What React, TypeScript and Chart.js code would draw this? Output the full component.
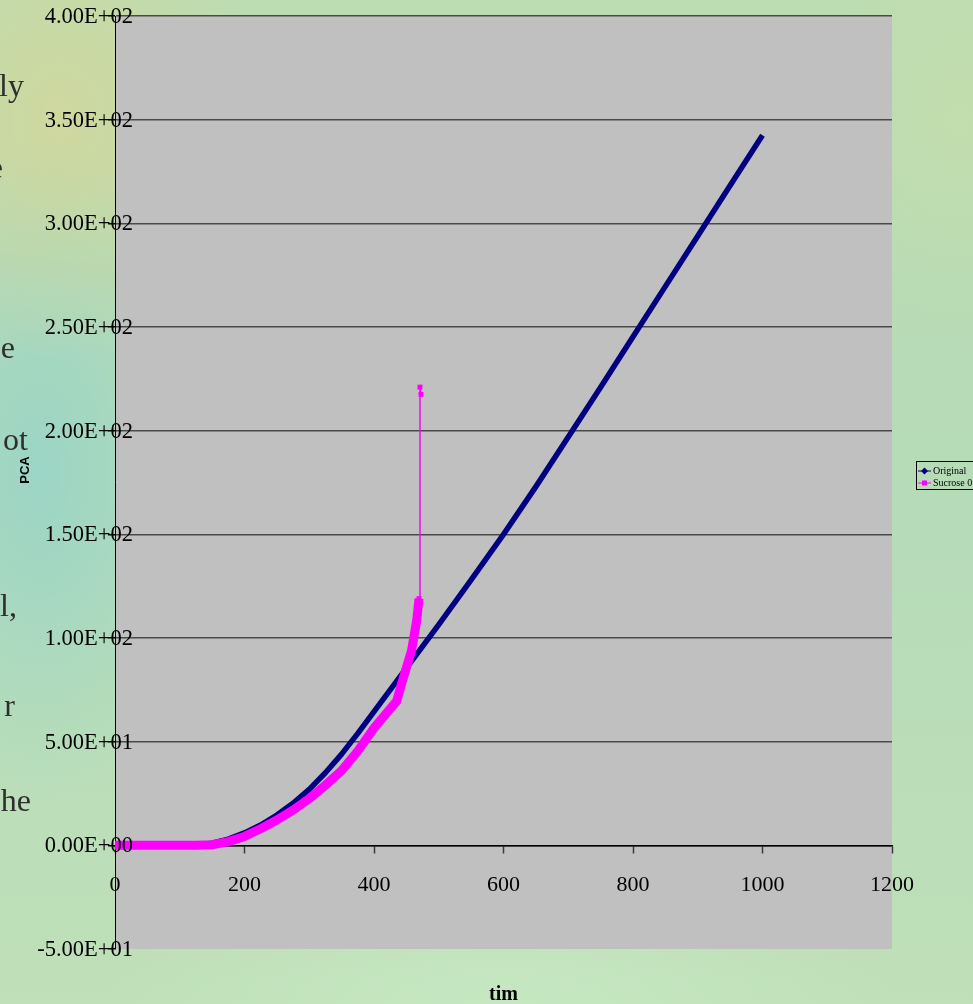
import React, { useEffect, useRef } from "react";
import { Chart, registerables } from "chart.js";

Chart.register(...registerables);

// Simulation output: PCA level against time for the two runs
const originalTime = [0, 50, 100, 125, 150, 175, 200, 225, 250, 275, 300, 325, 350, 375, 400, 425, 450, 475, 500, 550, 600, 650, 700, 750, 800, 850, 900, 950, 1000];
const originalPca = [0, 0, 0, 0.2, 1, 3, 6, 9.8, 14.6, 20.3, 27, 35, 44, 54, 64.5, 75, 85.5, 96, 106.5, 128, 150, 173, 197, 221, 245.3, 269.6, 293.9, 318.2, 342.5];

const sucroseTime = [0, 50, 100, 125, 150, 175, 200, 225, 250, 275, 300, 325, 350, 375, 400, 420, 435, 445, 458, 466, 469.5, 471, 472.5];
const sucrosePca = [0, 0, 0, 0, 0.3, 1.8, 4.3, 8, 12.2, 17, 22.5, 29, 36, 45.5, 56.5, 64, 69.5, 80.5, 94, 108.5, 119, 221, 217.5];

const seriesNames = ["Original", "Sucrose 0"];
const seriesColors = ["#000080", "#FF00FF"];

const xTicks = [0, 200, 400, 600, 800, 1000, 1200];
const xTickLabels = ["0", "200", "400", "600", "800", "1000", "1200"];
const yTicks = [-50, 0, 50, 100, 150, 200, 250, 300, 350, 400];
const yTickLabels = ["-5.00E+01", "0.00E+00", "5.00E+01", "1.00E+02", "1.50E+02", "2.00E+02", "2.50E+02", "3.00E+02", "3.50E+02", "4.00E+02"];

const xTitle = "tim";
const yTitle = "PCA";

// Slide text running behind the left edge of the chart
const slideFragments = [
  { text: "ly", right: 24, baseline: 96 },
  { text: "e", right: 3, baseline: 178 },
  { text: "e", right: 15, baseline: 358 },
  { text: "ot", right: 28, baseline: 450 },
  { text: "l,", right: 17, baseline: 616 },
  { text: "r", right: 15, baseline: 716 },
  { text: "he", right: 31, baseline: 811 },
];

const SERIF = "'Liberation Serif', 'Times New Roman', serif";
const SANS = "'Liberation Sans', Arial, sans-serif";

// index where the Sucrose run jumps off its thick trace
const jumpIndex = sucrosePca.findIndex((v) => v > 150);

const decorations = {
  id: "decorations",
  beforeDraw(chart: any) {
    const { ctx, chartArea } = chart;
    ctx.save();
    // slide text
    ctx.fillStyle = "#2e2e2e";
    ctx.font = `32px ${SERIF}`;
    ctx.textAlign = "right";
    ctx.textBaseline = "alphabetic";
    slideFragments.forEach((f) => ctx.fillText(f.text, f.right, f.baseline));
    // plot area
    ctx.fillStyle = "#C0C0C0";
    ctx.fillRect(chartArea.left, chartArea.top, chartArea.right - chartArea.left, chartArea.bottom - chartArea.top);
    ctx.restore();
  },
  afterDraw(chart: any) {
    const { ctx, chartArea } = chart;
    const yScale = chart.scales.y;
    ctx.save();

    // value labels of the y axis, overhanging the axis line
    ctx.fillStyle = "#000";
    ctx.font = `22.5px ${SERIF}`;
    ctx.textAlign = "right";
    ctx.textBaseline = "middle";
    yTicks.forEach((v, i) => {
      ctx.fillText(yTickLabels[i], yScale.left + yScale.width + 18, yScale.getPixelForValue(v) + 1);
    });

    // axis titles
    ctx.font = `bold 20px ${SERIF}`;
    ctx.textAlign = "center";
    ctx.textBaseline = "alphabetic";
    ctx.fillText(xTitle, (chartArea.left + chartArea.right) / 2, 1000);

    ctx.save();
    ctx.translate(25, 470);
    ctx.rotate(-Math.PI / 2);
    ctx.font = `bold 13px ${SANS}`;
    ctx.textBaseline = "middle";
    ctx.fillText(yTitle, 0, 0);
    ctx.restore();

    // legend box
    const lx = 916;
    const ly = 461;
    ctx.strokeStyle = "#000";
    ctx.lineWidth = 1;
    ctx.strokeRect(lx + 0.5, ly + 0.5, 70, 28);
    ctx.font = `10px ${SERIF}`;
    ctx.textAlign = "left";
    ctx.textBaseline = "middle";
    seriesNames.forEach((name, i) => {
      const y = ly + 10 + i * 12;
      ctx.strokeStyle = seriesColors[i];
      ctx.lineWidth = 1;
      ctx.beginPath();
      ctx.moveTo(918, y);
      ctx.lineTo(931, y);
      ctx.stroke();
      ctx.fillStyle = seriesColors[i];
      if (i === 0) {
        ctx.beginPath();
        ctx.moveTo(924.5, y - 3.5);
        ctx.lineTo(928, y);
        ctx.lineTo(924.5, y + 3.5);
        ctx.lineTo(921, y);
        ctx.closePath();
        ctx.fill();
      } else {
        ctx.fillRect(922, y - 2.5, 5, 5);
      }
      ctx.fillStyle = "#000";
      ctx.fillText(name, 933, y + 0.5);
    });
    ctx.restore();
  },
};

export default function App() {
  const canvasRef = useRef<HTMLCanvasElement | null>(null);

  useEffect(() => {
    const canvas = canvasRef.current;
    if (!canvas) return;
    const chart = new Chart(canvas, {
      type: "line",
      data: {
        datasets: [
          {
            label: seriesNames[1],
            data: sucroseTime.map((t, i) => ({ x: t, y: sucrosePca[i] })),
            borderColor: seriesColors[1],
            backgroundColor: seriesColors[1],
            borderWidth: 9,
            borderJoinStyle: "round",
            segment: {
              borderWidth: (ctx: any) => (ctx.p1DataIndex >= jumpIndex ? 1.5 : 9),
            },
            pointStyle: "rect",
            pointRadius: (ctx: any) => (ctx.dataIndex >= jumpIndex - 1 ? 3.5 : 0),
            pointBorderWidth: 0,
            tension: 0,
            order: 0,
          },
          {
            label: seriesNames[0],
            data: originalTime.map((t, i) => ({ x: t, y: originalPca[i] })),
            borderColor: seriesColors[0],
            backgroundColor: seriesColors[0],
            borderWidth: 5.5,
            borderJoinStyle: "round",
            pointRadius: 0,
            tension: 0,
            order: 1,
          },
        ],
      },
      options: {
        animation: false,
        responsive: false,
        devicePixelRatio: 1,
        layout: { padding: { left: 0, top: 16, right: 81, bottom: 55 } },
        plugins: {
          legend: { display: false },
          tooltip: { enabled: false },
        },
        scales: {
          x: {
            type: "linear",
            position: { y: 0 },
            min: 0,
            max: 1200,
            afterBuildTicks: (scale: any) => {
              scale.ticks = xTicks.map((v) => ({ value: v }));
            },
            ticks: {
              autoSkip: false,
              maxRotation: 0,
              padding: 20,
              color: "#000",
              font: { family: SERIF, size: 22 },
              callback: (value: any) => xTickLabels[xTicks.indexOf(Number(value))],
            },
            grid: {
              drawOnChartArea: false,
              drawTicks: true,
              tickLength: 7,
              tickColor: "#3a3a3a",
              tickWidth: 1.5,
            },
            border: { display: true, color: "#000", width: 1.5 },
          },
          y: {
            type: "linear",
            position: "left",
            min: -50,
            max: 400,
            afterBuildTicks: (scale: any) => {
              scale.ticks = yTicks.map((v) => ({ value: v }));
            },
            afterFit: (scale: any) => {
              scale.width = 115;
            },
            ticks: {
              display: false,
            },
            grid: {
              drawOnChartArea: true,
              drawTicks: true,
              tickLength: 7,
              tickColor: "#000",
              lineWidth: 1.5,
              color: (ctx: any) => (ctx.tick && ctx.tick.value === -50 ? "rgba(0,0,0,0)" : "#4a4a4a"),
            },
            border: { display: true, color: "#000", width: 1 },
          },
        },
      },
      plugins: [decorations],
    });
    return () => chart.destroy();
  }, []);

  const background = [
    "radial-gradient(ellipse 200px 240px at 60px 120px, rgba(214,214,150,0.75), rgba(214,214,150,0))",
    "radial-gradient(ellipse 170px 330px at 40px 470px, rgba(150,212,200,0.85), rgba(150,212,200,0))",
    "radial-gradient(ellipse 160px 200px at 960px 120px, rgba(196,222,170,0.7), rgba(196,222,170,0))",
    "radial-gradient(ellipse 400px 120px at 500px 1004px, rgba(200,234,196,0.8), rgba(200,234,196,0))",
    "linear-gradient(180deg, #bcdcb2 0%, #b6dbb8 50%, #bfe0b8 100%)",
  ].join(", ");

  return (
    <div style={{ position: "absolute", left: 0, top: 0, width: 973, height: 1004, background, overflow: "hidden" }}>
      <canvas ref={canvasRef} width={973} height={1004} style={{ display: "block" }} />
    </div>
  );
}
